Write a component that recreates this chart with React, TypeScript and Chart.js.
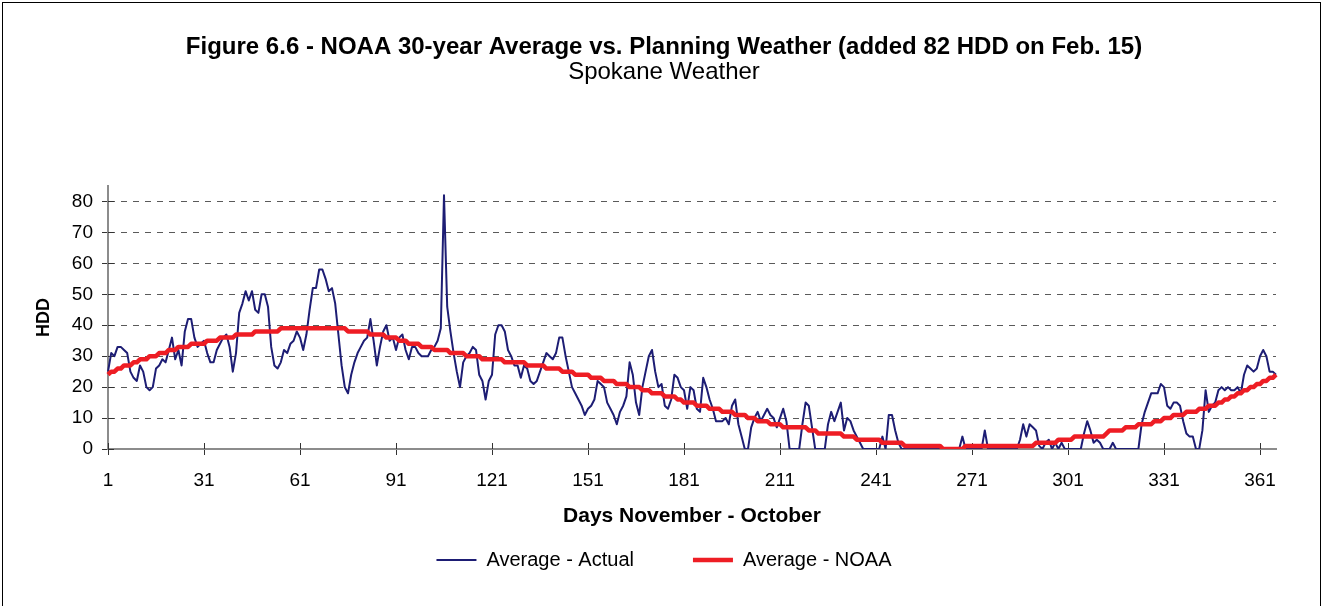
import React, { useEffect, useRef } from 'react';
import { Chart, registerables } from 'chart.js';

Chart.register(...registerables);

const FONT = "'Liberation Sans', Arial, sans-serif";

const days: number[] = Array.from({ length: 366 }, (_, i) => i + 1);
const xTickLabels: number[] = [1, 31, 61, 91, 121, 151, 181, 211, 241, 271, 301, 331, 361];
const yTickValues: number[] = [0, 10, 20, 30, 40, 50, 60, 70, 80];
const yMin = 0;
const yMax = 85;

const titleText = 'Figure 6.6 - NOAA 30-year Average vs. Planning Weather (added 82 HDD on Feb. 15)';
const subtitleText = 'Spokane Weather';
const xTitle = 'Days November - October';
const yTitle = 'HDD';
const seriesNames = ['Average - Actual', 'Average - NOAA'];

const actual: number[] = [
  25, 31, 30, 33, 33, 32, 31, 25, 23, 22,
  27, 25, 20, 19, 20, 26, 27, 29, 28, 32,
  36, 29, 32, 27, 38, 42, 42, 36, 33, 34,
  35, 31, 28, 28, 32, 34, 36, 37, 33, 25,
  31, 44, 47, 51, 48, 51, 45, 44, 50, 50,
  46, 33, 27, 26, 28, 32, 31, 34, 35, 38,
  36, 32, 37, 45, 52, 52, 58, 58, 55, 51,
  52, 47, 37, 27, 20, 18, 24, 28, 31, 33,
  35, 36, 42, 35, 27, 33, 38, 40, 35, 36,
  32, 36, 37, 32, 29, 33, 33, 31, 30, 30,
  30, 32, 33, 35, 39, 82, 46, 38, 31, 25,
  20, 28, 30, 31, 33, 32, 24, 22, 16, 22,
  24, 37, 40, 40, 38, 32, 30, 27, 27, 23,
  27, 26, 22, 21, 22, 25, 28, 31, 30, 29,
  31, 36, 36, 30, 25, 20, 18, 16, 14, 11,
  13, 14, 16, 22, 21, 20, 15, 13, 11, 8,
  12, 14, 17, 28, 24, 15, 11, 20, 25, 30,
  32, 25, 20, 21, 14, 13, 16, 24, 23, 20,
  19, 13, 20, 19, 13, 12, 23, 20, 16, 13,
  9, 9, 9, 10, 8, 14, 16, 8, 4, 0,
  0, 7, 10, 12, 9, 11, 13, 11, 10, 7,
  10, 13, 9, 0, 0, 0, 0, 8, 15, 14,
  7, 0, 0, 0, 0, 8, 12, 9, 12, 15,
  6, 10, 9, 6, 4, 2, 0, 0, 0, 0,
  0, 0, 4, 0, 11, 11, 6, 2, 0, 0,
  0, 0, 0, 0, 0, 0, 0, 0, 0, 0,
  0, 0, 0, 0, 0, 0, 0, 4, 0, 0,
  0, 0, 0, 0, 6, 0, 0, 0, 0, 0,
  0, 0, 0, 0, 0, 3, 8, 4, 8, 7,
  6, 1, 0, 2, 3, 0, 2, 0, 2, 0,
  0, 0, 0, 0, 0, 5, 9, 6, 2, 3,
  2, 0, 0, 0, 2, 0, 0, 0, 0, 0,
  0, 0, 0, 8, 12, 15, 18, 18, 18, 21,
  20, 14, 13, 15, 15, 14, 9, 5, 4, 4,
  0, 0, 6, 19, 12, 14, 15, 19, 20, 19,
  20, 19, 19, 20, 18, 24, 27, 26, 25, 26,
  30, 32, 30, 25, 25, 24,
];

const noaa: number[] = [
  24, 25, 25, 26, 26, 27, 27, 27, 28, 28,
  29, 29, 29, 30, 30, 30, 31, 31, 31, 32,
  32, 32, 33, 33, 33, 33, 34, 34, 34, 34,
  34, 35, 35, 35, 35, 36, 36, 36, 36, 36,
  37, 37, 37, 37, 37, 37, 38, 38, 38, 38,
  38, 38, 38, 38, 39, 39, 39, 39, 39, 39,
  39, 39, 39, 39, 39, 39, 39, 39, 39, 39,
  39, 39, 39, 39, 39, 38, 38, 38, 38, 38,
  38, 38, 37, 37, 37, 37, 37, 36, 36, 36,
  36, 35, 35, 35, 34, 34, 34, 34, 33, 33,
  33, 33, 32, 32, 32, 32, 32, 31, 31, 31,
  31, 31, 30, 30, 30, 30, 30, 29, 29, 29,
  29, 29, 29, 29, 28, 28, 28, 28, 28, 28,
  28, 27, 27, 27, 27, 27, 27, 26, 26, 26,
  26, 26, 25, 25, 25, 25, 24, 24, 24, 24,
  24, 23, 23, 23, 23, 22, 22, 22, 22, 21,
  21, 21, 21, 20, 20, 20, 20, 19, 19, 19,
  18, 18, 18, 18, 17, 17, 17, 17, 16, 16,
  15, 15, 15, 15, 14, 14, 14, 14, 13, 13,
  13, 13, 12, 12, 12, 12, 11, 11, 11, 11,
  10, 10, 10, 9, 9, 9, 9, 8, 8, 8,
  8, 7, 7, 7, 7, 7, 7, 7, 7, 6,
  6, 6, 5, 5, 5, 5, 5, 5, 5, 5,
  4, 4, 4, 4, 3, 3, 3, 3, 3, 3,
  3, 3, 2, 2, 2, 2, 2, 2, 2, 1,
  1, 1, 1, 1, 1, 1, 1, 1, 1, 1,
  1, 0, 0, 0, 0, 0, 0, 0, 1, 1,
  1, 1, 1, 1, 1, 1, 1, 1, 1, 1,
  1, 1, 1, 1, 1, 1, 1, 1, 1, 1,
  2, 2, 2, 2, 2, 2, 2, 3, 3, 3,
  3, 3, 4, 4, 4, 4, 4, 4, 4, 4,
  4, 4, 5, 6, 6, 6, 6, 6, 7, 7,
  7, 7, 8, 8, 8, 8, 8, 9, 9, 9,
  10, 10, 10, 11, 11, 11, 11, 12, 12, 12,
  12, 13, 13, 13, 14, 14, 14, 15, 15, 16,
  16, 17, 17, 18, 18, 19, 19, 20, 20, 21,
  21, 22, 22, 23, 23, 24,
];

const crossTicks = {
  id: 'crossTicks',
  beforeDatasetsDraw(chart: any) {
    const { ctx, chartArea } = chart;
    const xs = chart.scales.x;
    const ys = chart.scales.y;
    ctx.save();
    ctx.strokeStyle = '#333333';
    ctx.lineWidth = 1;
    xs.ticks.forEach((_t: any, i: number) => {
      const px = Math.round(xs.getPixelForTick(i)) + 0.5;
      ctx.beginPath();
      ctx.moveTo(px, chartArea.bottom - 6);
      ctx.lineTo(px, chartArea.bottom);
      ctx.stroke();
    });
    ys.ticks.forEach((_t: any, i: number) => {
      const py = Math.round(ys.getPixelForTick(i)) + 0.5;
      ctx.beginPath();
      ctx.moveTo(chartArea.left, py);
      ctx.lineTo(chartArea.left + 6, py);
      ctx.stroke();
    });
    ctx.restore();
  },
};

export default function App() {
  const ref = useRef<HTMLCanvasElement>(null);

  useEffect(() => {
    const canvas = ref.current;
    if (!canvas) return;
    Chart.defaults.font.family = FONT;
    Chart.defaults.color = '#000';
    const chart = new Chart(canvas, {
      type: 'line',
      data: {
        labels: days,
        datasets: [
          {
            label: seriesNames[0],
            data: actual,
            borderColor: '#1d1d74',
            backgroundColor: '#1d1d74',
            borderWidth: 2,
            pointRadius: 0,
            pointHoverRadius: 0,
            tension: 0,
            borderJoinStyle: 'round',
            order: 1,
          },
          {
            label: seriesNames[1],
            data: noaa,
            borderColor: '#ee1d24',
            backgroundColor: '#ee1d24',
            borderWidth: 4.5,
            pointRadius: 0,
            pointHoverRadius: 0,
            tension: 0,
            borderJoinStyle: 'round',
            order: 0,
          },
        ],
      },
      options: {
        responsive: false,
        animation: false,
        devicePixelRatio: 1,
        events: [],
        layout: { padding: { left: 4, right: 0, top: 0, bottom: 26 } },
        plugins: {
          title: {
            display: true,
            text: titleText,
            color: '#000',
            font: { family: FONT, size: 24, weight: 'bold', lineHeight: 1 },
            padding: { top: 35, bottom: 0 },
          },
          subtitle: {
            display: true,
            text: subtitleText,
            color: '#000',
            font: { family: FONT, size: 24, weight: 'normal', lineHeight: 1 },
            padding: { top: 1, bottom: 102 },
          },
          legend: {
            display: true,
            position: 'bottom',
            labels: {
              usePointStyle: true,
              pointStyle: 'line',
              pointStyleWidth: 40,
              padding: 59,
              color: '#000',
              font: { family: FONT, size: 20 },
              sort: (a: any, b: any) => a.datasetIndex - b.datasetIndex,
            },
          },
          tooltip: { enabled: false },
        },
        scales: {
          x: {
            type: 'category',
            grid: {
              display: true,
              drawOnChartArea: false,
              drawTicks: true,
              tickLength: 6,
              tickColor: '#333333',
              tickWidth: 1,
            },
            border: { display: true, color: '#8c8c8c', width: 2 },
            ticks: {
              autoSkip: false,
              maxRotation: 0,
              minRotation: 0,
              padding: 14.6,
              color: '#000',
              font: { family: FONT, size: 19 },
            },
            afterBuildTicks: (s: any) => {
              s.ticks = s.ticks.filter((t: any) => xTickLabels.includes(days[t.value]));
            },
            afterFit: (s: any) => {
              s.height = 42;
            },
            title: {
              display: true,
              text: xTitle,
              color: '#000',
              font: { family: FONT, size: 21, weight: 'bold' },
              padding: { top: 0, bottom: -38 },
            },
          },
          y: {
            type: 'linear',
            min: yMin,
            max: yMax,
            ticks: {
              padding: 9,
              color: '#000',
              font: { family: FONT, size: 19 },
            },
            afterBuildTicks: (s: any) => {
              s.ticks = yTickValues.map((v) => ({ value: v }));
            },
            grid: {
              display: true,
              color: '#5a5a5a',
              lineWidth: 1,
              drawTicks: true,
              tickLength: 6,
              tickColor: '#333333',
              tickBorderDash: [],
            },
            border: { display: true, color: '#8c8c8c', width: 2, dash: [6, 6] },
            afterFit: (s: any) => {
              s.width = 104;
            },
            title: {
              display: true,
              text: yTitle,
              color: '#000',
              font: { family: FONT, size: 18, weight: 'bold' },
              padding: { top: 29, bottom: 0 },
            },
          },
          yRight: {
            type: 'linear',
            position: 'right',
            display: true,
            grid: { display: false },
            border: { display: false },
            ticks: { display: false },
            afterFit: (s: any) => {
              s.width = 48;
            },
          },
        },
      },
      plugins: [crossTicks],
    } as any);
    return () => chart.destroy();
  }, []);

  return (
    <div
      style={{
        position: 'fixed',
        left: 0,
        top: 0,
        width: 1324,
        height: 606,
        overflow: 'hidden',
        background: '#fff',
      }}
    >
      <canvas ref={ref} width={1324} height={606} style={{ display: 'block', width: 1324, height: 606 }} />
      <div
        style={{
          position: 'absolute',
          left: 2,
          top: 2,
          width: 1319,
          height: 700,
          border: '1px solid #000',
          boxSizing: 'border-box',
          pointerEvents: 'none',
        }}
      />
    </div>
  );
}
